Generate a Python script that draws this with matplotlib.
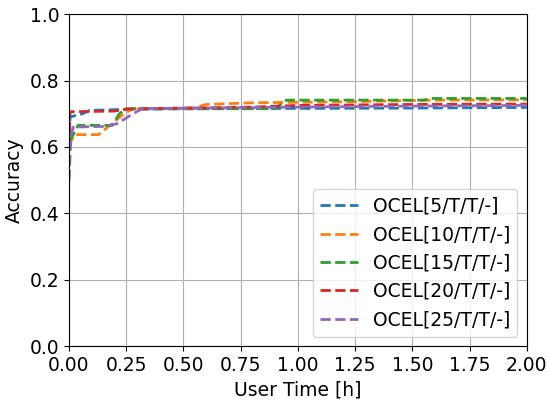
import matplotlib.pyplot as plt
import numpy as np

# user time in hours and accuracy
t5 = [0.0, 0.005, 0.03, 0.06, 0.09, 0.25, 0.5, 1.0, 1.5, 2.0]
a5 = [0.50, 0.69, 0.695, 0.70, 0.71, 0.713, 0.715, 0.716, 0.717, 0.719]

t10 = [0.0, 0.01, 0.03, 0.13, 0.17, 0.24, 0.28, 0.55, 0.6, 0.8, 1.2, 1.6, 2.0]
a10 = [0.60, 0.62, 0.637, 0.637, 0.66, 0.70, 0.715, 0.718, 0.728, 0.733, 0.736, 0.741, 0.742]

t15 = [0.0, 0.01, 0.04, 0.19, 0.22, 0.25, 0.9, 0.95, 1.55, 1.58, 2.0]
a15 = [0.62, 0.625, 0.665, 0.665, 0.70, 0.715, 0.715, 0.741, 0.741, 0.746, 0.746]

t20 = [0.0, 0.005, 0.2, 0.25, 0.8, 1.0, 1.5, 2.0]
a20 = [0.60, 0.706, 0.708, 0.714, 0.72, 0.725, 0.728, 0.729]

t25 = [0.0, 0.01, 0.02, 0.16, 0.21, 0.28, 0.32, 1.0, 1.5, 2.0]
a25 = [0.50, 0.64, 0.66, 0.662, 0.67, 0.70, 0.715, 0.72, 0.723, 0.725]

labels = ['OCEL[5/T/T/-]', 'OCEL[10/T/T/-]', 'OCEL[15/T/T/-]',
          'OCEL[20/T/T/-]', 'OCEL[25/T/T/-]']

plt.rcParams['font.size'] = 13.5
fig, ax = plt.subplots(figsize=(5.47, 4.03), dpi=100)

for t, a, lab in zip([t5, t10, t15, t20, t25], [a5, a10, a15, a20, a25], labels):
    ax.plot(t, a, '--', linewidth=2, label=lab)

ax.set_xlim(0, 2)
ax.set_ylim(0, 1)
ax.set_xticks(np.arange(0, 2.01, 0.25))
ax.set_xlabel('User Time [h]')
ax.set_ylabel('Accuracy')
ax.grid(True)
ax.legend(loc='lower right')

plt.subplots_adjust(left=0.126, right=0.963, top=0.965, bottom=0.141)
plt.savefig('out.png')
